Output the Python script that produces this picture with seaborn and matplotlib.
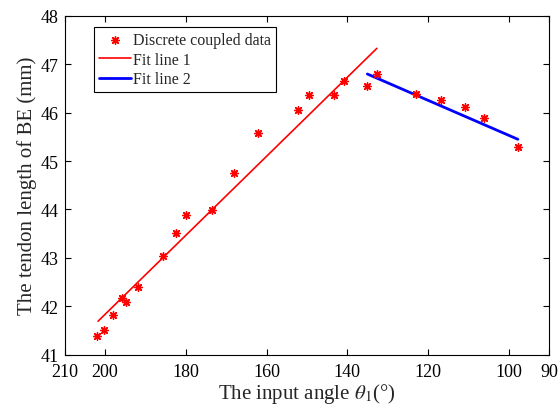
import numpy as np
import pandas as pd
import matplotlib
matplotlib.use("Agg")
import matplotlib.pyplot as plt
import seaborn as sns

# Data
angle = [201.9, 200.3, 198.1, 195.8, 194.8, 191.85, 185.7, 182.5, 179.9, 173.4,
         168.1, 162.05, 152.3, 149.6, 143.4, 140.8, 135.1, 132.7, 122.9, 116.9,
         111.0, 106.25, 97.8]
length = [41.39, 41.51, 41.82, 42.17, 42.08, 42.39, 43.04, 43.51, 43.89, 43.99,
          44.75, 45.57, 46.05, 46.36, 46.36, 46.65, 46.55, 46.80, 46.39, 46.27,
          46.12, 45.88, 45.29]
fit1_x = [201.7, 132.7]
fit1_y = [41.69, 47.33]
fit2_x = [135.06, 97.8]
fit2_y = [46.80, 45.45]
xticks = [210, 200, 180, 160, 140, 120, 100, 90]
yticks = [41, 42, 43, 44, 45, 46, 47, 48]

sns.set_style("ticks")
plt.rcParams["font.family"] = ["Liberation Serif", "DejaVu Serif"]
plt.rcParams["mathtext.fontset"] = "stix"

fig = plt.figure(figsize=(5.58, 4.14), dpi=100)
ax = fig.add_axes([0.1156, 0.1411, 0.869, 0.818])

df = pd.DataFrame({"angle": angle, "length": length})
sns.scatterplot(data=df, x="angle", y="length", ax=ax, marker=(8, 2, 0), s=30,
                color="red", edgecolor="red", linewidth=1.0, label="Discrete coupled data", zorder=3)
sns.lineplot(x=fit1_x, y=fit1_y, ax=ax, color="red", linewidth=1.2, label="Fit line 1")
sns.lineplot(x=fit2_x, y=fit2_y, ax=ax, color="blue", linewidth=2.0, label="Fit line 2")

ax.set_xlim(210, 90)
ax.set_ylim(41, 48)
ax.set_xticks(xticks)
ax.set_yticks(yticks)
ax.tick_params(direction="in", top=True, right=True, length=4, width=0.8,
               labelsize=13, colors="black")
ax.tick_params(axis="x", pad=6)
ax.tick_params(axis="y", pad=4)
for sp in ax.spines.values():
    sp.set_visible(True)
    sp.set_linewidth(0.8)
    sp.set_color("black")

ax.set_xlabel(r"The input angle $\theta_1$(°)", fontsize=15, labelpad=1)
ax.set_ylabel("The tendon length of BE (mm)", fontsize=15, labelpad=3)

leg = ax.legend(loc="upper left", bbox_to_anchor=(0.0614, 0.966), fontsize=11.5,
                frameon=True, fancybox=False, edgecolor="black", framealpha=1,
                borderpad=0.3, labelspacing=0.22, handlelength=2.0, handletextpad=0.15,
                borderaxespad=0.0)
leg.get_frame().set_linewidth(0.8)

fig.savefig("out.png", dpi=100)
